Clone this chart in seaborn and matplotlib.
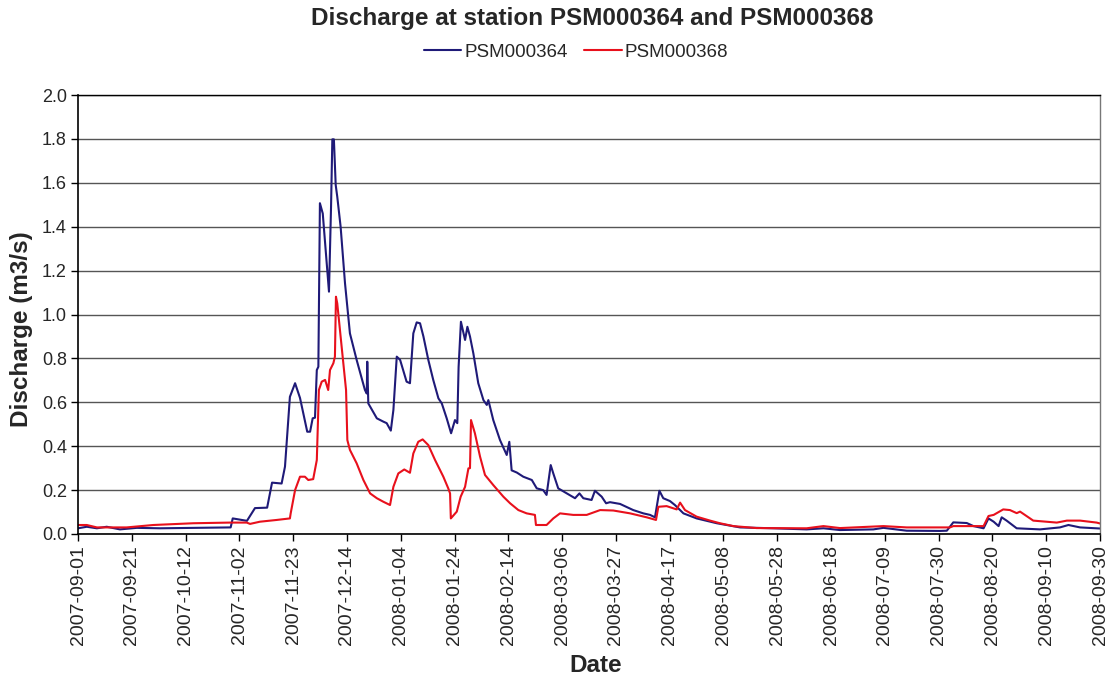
import numpy as np
import pandas as pd
import matplotlib
matplotlib.use('Agg')
import matplotlib.pyplot as plt
import seaborn as sns

# days since 2007-09-01 and discharge (m3/s)
days_364 = [0, 3.4, 7.3, 11.1, 16.2, 22.7, 31.7, 44.6, 54.9, 59.0, 59.8, 65.3, 68.4, 73.1,
            75.0, 78.7, 80.0, 81.9, 83.9, 85.8, 88.6, 89.7, 90.7, 91.6, 92.3, 92.9, 93.5,
            94.6, 97.0, 97.8, 98.3, 98.9, 99.6, 100.2, 101.5, 103.2, 105.1, 107.7, 110.9,
            111.6, 111.8, 112.2, 115.5, 118.0, 119.3, 120.9, 121.9, 123.2, 124.5, 127.0,
            128.3, 129.6, 130.9, 132.2, 133.5, 135.4, 137.3, 139.3, 140.6, 142.5, 144.2,
            145.7, 146.6, 147.1, 148.0, 149.6, 150.5, 151.5, 152.8, 154.7, 156.7, 158.0,
            158.6, 160.5, 163.1, 165.7, 166.7, 167.6, 169.6, 172.1, 175.4, 177.3, 179.8,
            181.1, 182.7, 183.7, 185.6, 188.9, 192.1, 193.8, 195.3, 198.5, 199.8, 202.4,
            204.1, 205.6, 209.5, 214.6, 218.5, 221.1, 223.0, 224.7, 226.2, 228.8, 230.7,
            234.0, 239.1, 246.9, 255.9, 268.7, 281.6, 288.1, 294.5, 307.4, 311.3, 320.3,
            333.2, 335.8, 338.3, 343.5, 346.1, 350.0, 351.9, 353.9, 355.8, 357.0, 358.9,
            362.8, 371.8, 379.5, 382.8, 387.3, 393.7, 395]
flow_364 = [0.026, 0.033, 0.026, 0.033, 0.021, 0.028, 0.026, 0.028, 0.030, 0.030, 0.071, 0.060,
            0.118, 0.120, 0.234, 0.230, 0.307, 0.625, 0.687, 0.620, 0.466, 0.466, 0.527, 0.530,
            0.747, 0.762, 1.507, 1.460, 1.104, 1.490, 1.798, 1.798, 1.590, 1.537, 1.400, 1.142,
            0.914, 0.793, 0.656, 0.640, 0.785, 0.595, 0.527, 0.512, 0.505, 0.471, 0.565, 0.808,
            0.793, 0.694, 0.687, 0.914, 0.964, 0.960, 0.900, 0.793, 0.702, 0.618, 0.595, 0.527,
            0.459, 0.519, 0.505, 0.761, 0.967, 0.884, 0.944, 0.900, 0.823, 0.687, 0.610, 0.588,
            0.610, 0.519, 0.428, 0.360, 0.420, 0.290, 0.280, 0.261, 0.246, 0.208, 0.200, 0.178,
            0.314, 0.276, 0.208, 0.185, 0.163, 0.185, 0.163, 0.155, 0.197, 0.170, 0.140, 0.145,
            0.137, 0.109, 0.094, 0.087, 0.076, 0.197, 0.163, 0.150, 0.132, 0.094, 0.071, 0.049,
            0.030, 0.026, 0.021, 0.026, 0.018, 0.021, 0.028, 0.015, 0.014, 0.015, 0.053, 0.050,
            0.036, 0.026, 0.071, 0.056, 0.036, 0.076, 0.061, 0.026, 0.021, 0.030, 0.041, 0.030,
            0.026, 0.025]

days_368 = [0, 3.4, 7.3, 18.8, 29.1, 44.6, 58.7, 65.2, 66.5, 70.3, 76.8, 81.9, 82.2, 83.9,
            85.8, 87.7, 89.0, 90.9, 92.3, 93.1, 94.2, 95.5, 96.7, 97.4, 98.7, 99.3, 99.7,
            100.2, 101.9, 103.6, 104.1, 105.1, 107.7, 110.3, 112.9, 115.5, 118.0, 120.6,
            121.9, 123.8, 126.1, 128.3, 129.6, 131.5, 133.2, 135.4, 138.0, 139.9, 141.2,
            143.1, 143.8, 144.1, 146.4, 147.9, 149.6, 150.9, 151.5, 151.9, 153.4, 155.4,
            157.3, 160.5, 164.4, 167.0, 170.2, 173.4, 176.6, 177.0, 181.1, 183.7, 186.3,
            191.4, 196.6, 201.8, 206.9, 213.4, 219.8, 223.4, 224.3, 227.5, 231.4, 232.7,
            234.6, 239.1, 244.3, 248.1, 253.3, 262.3, 281.6, 288.1, 294.5, 311.3, 320.3,
            337.0, 338.3, 350.0, 351.9, 353.9, 357.6, 360.2, 362.8, 364.1, 369.2, 378.3,
            382.2, 387.3, 393.7, 395]
flow_368 = [0.041, 0.041, 0.030, 0.030, 0.041, 0.049, 0.052, 0.052, 0.046, 0.056, 0.064, 0.071,
            0.094, 0.200, 0.261, 0.261, 0.246, 0.250, 0.337, 0.656, 0.694, 0.702, 0.656, 0.747,
            0.778, 0.808, 1.081, 1.051, 0.853, 0.656, 0.428, 0.383, 0.322, 0.246, 0.185, 0.163,
            0.147, 0.132, 0.215, 0.276, 0.294, 0.279, 0.367, 0.420, 0.431, 0.405, 0.337, 0.292,
            0.261, 0.208, 0.185, 0.071, 0.102, 0.170, 0.215, 0.299, 0.300, 0.519, 0.459, 0.352,
            0.269, 0.223, 0.170, 0.140, 0.109, 0.094, 0.087, 0.041, 0.041, 0.071, 0.094, 0.087,
            0.087, 0.109, 0.107, 0.094, 0.076, 0.064, 0.124, 0.127, 0.112, 0.143, 0.109, 0.079,
            0.061, 0.049, 0.036, 0.027, 0.026, 0.036, 0.027, 0.036, 0.030, 0.030, 0.036, 0.036,
            0.082, 0.087, 0.112, 0.109, 0.095, 0.102, 0.061, 0.052, 0.061, 0.061, 0.052, 0.048]

tick_labels = ['2007-09-01', '2007-09-21', '2007-10-12', '2007-11-02', '2007-11-23',
               '2007-12-14', '2008-01-04', '2008-01-24', '2008-02-14', '2008-03-06',
               '2008-03-27', '2008-04-17', '2008-05-08', '2008-05-28', '2008-06-18',
               '2008-07-09', '2008-07-30', '2008-08-20', '2008-09-10', '2008-09-30']

start = pd.Timestamp('2007-09-01')
end = pd.Timestamp('2008-09-30')

df = pd.concat([
    pd.DataFrame({'Date': start + pd.to_timedelta(days_364, unit='D'),
                  'Discharge': flow_364, 'Station': 'PSM000364'}),
    pd.DataFrame({'Date': start + pd.to_timedelta(days_368, unit='D'),
                  'Discharge': flow_368, 'Station': 'PSM000368'}),
])

sns.set_style('white')
plt.rcParams['font.family'] = ['Liberation Sans', 'DejaVu Sans']

fig = plt.figure(figsize=(11.08, 6.79), dpi=100)
ax = fig.add_axes([78 / 1108, 1 - 534 / 679, 1022 / 1108, 439 / 679])

sns.lineplot(data=df, x='Date', y='Discharge', hue='Station',
             palette={'PSM000364': '#1f1a78', 'PSM000368': '#e8101c'},
             linewidth=1.5, ax=ax, legend=True)

ax.set_xlim(start, end)
ax.set_ylim(0, 2.0)
ax.set_yticks(np.arange(0, 2.01, 0.2))
ax.set_yticklabels([f'{v:.1f}' for v in np.arange(0, 2.01, 0.2)], fontsize=13)
ax.set_xticks(pd.date_range(start, end, periods=len(tick_labels)))
ax.set_xticklabels(tick_labels, rotation=90, fontsize=14)
ax.tick_params(axis='both', direction='out', length=5, width=1, color='black',
               bottom=True, left=True, pad=3)

ax.grid(axis='y', color='#555555', linewidth=1)
ax.set_axisbelow(True)
for side in ['left', 'bottom']:
    ax.spines[side].set_color('black')
    ax.spines[side].set_linewidth(1.2)
ax.spines['top'].set_color('black')
ax.spines['top'].set_linewidth(1)
ax.spines['right'].set_color('#777777')
ax.spines['right'].set_linewidth(1)

ax.set_xlabel('Date', fontsize=17.5, fontweight='bold', va='center')
ax.set_ylabel('Discharge (m3/s)', fontsize=17.5, fontweight='bold', va='center')
ax.xaxis.set_label_coords((596 - 78) / 1022, (534 - 665) / 439)
ax.yaxis.set_label_coords((22 - 78) / 1022, (534 - 329) / 439)

fig.text(592 / 1108, 1 - 18 / 679, 'Discharge at station PSM000364 and PSM000368',
         fontsize=17.5, fontweight='bold', ha='center', va='center')

handles, labels = ax.get_legend_handles_labels()
ax.get_legend().remove()
fig.legend(handles, labels, loc='center', bbox_to_anchor=(576 / 1108, 1 - 52 / 679),
           ncol=2, frameon=False, fontsize=13.5, handlelength=2.0, handletextpad=0.15,
           columnspacing=0.9, borderaxespad=0)

fig.savefig('out.png', dpi=100)
